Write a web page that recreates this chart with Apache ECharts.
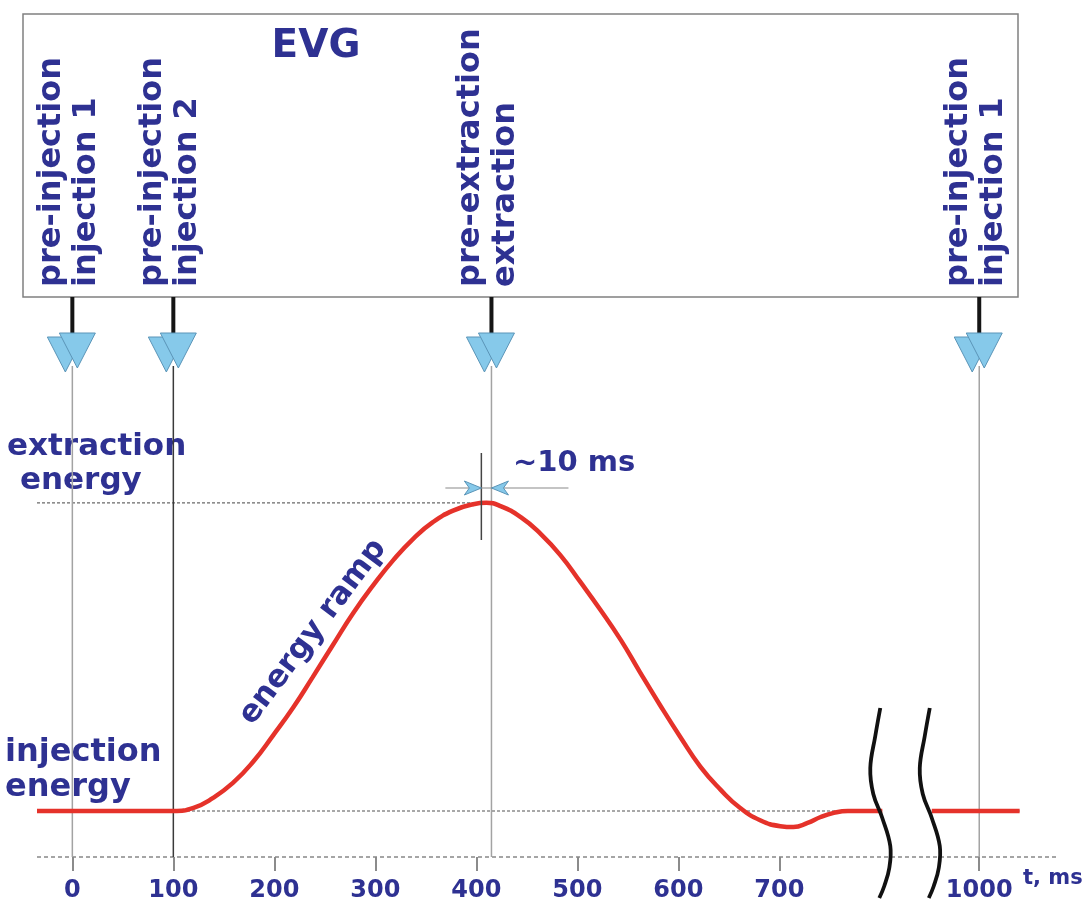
<!DOCTYPE html>
<html><head><meta charset="utf-8">
<script src="https://cdn.jsdelivr.net/npm/echarts@6/dist/echarts.min.js"></script>
<style>html,body{margin:0;padding:0;background:#fff}#c{width:1088px;height:910px}</style>
</head><body><div id="c"></div>
<script>
// ---- data ----
const tValues = [-35, 100, 120, 139, 159, 179, 199, 219, 238, 258, 278, 298, 318, 338, 357, 377, 397, 410, 424, 444, 463, 483, 503, 523, 543, 562, 582, 602, 622, 642, 661, 681, 701, 714, 728, 741, 754, 768, 802, 880, 953, 1040];
const energyValues = [1.0, 1.0, 1.07, 1.28, 1.61, 2.07, 2.65, 3.26, 3.91, 4.61, 5.30, 5.91, 6.46, 6.93, 7.28, 7.53, 7.67, 7.70, 7.63, 7.39, 7.04, 6.57, 5.98, 5.37, 4.72, 4.02, 3.30, 2.61, 1.96, 1.46, 1.07, 0.80, 0.67, 0.65, 0.74, 0.87, 0.96, 1.0, 1.0, null, 1.0, 1.0];
const tickValues = [0, 100, 200, 300, 400, 500, 600, 700, 1000];
const eventTimes = [0, 100, 415, 1000];
const eventLabels = ['pre-injection\ninjection 1', 'pre-injection\ninjection 2', 'pre-extraction\nextraction', 'pre-injection\ninjection 1'];
const preExtractionTime = 405;
const extractionTime = 415;
const injectionEnergy = 1.0;
const extractionEnergy = 7.7;
const breakStart = 802;
const breakEnd = 953;
const breakGap = 49;
const axisMin = -35;
const axisMax = 1077;

const NAVY = '#2e3192';
const FONT = '"DejaVu Sans", "Liberation Sans", Arial, sans-serif';
const TRI_FILL = '#86c9ea';
const TRI_STROKE = '#5b95b8';

const rampData = tValues.map((t, i) => [t, energyValues[i]]);
const injLine = [[axisMin, injectionEnergy], [breakStart, injectionEnergy], [(breakStart + breakEnd) / 2, null], [breakEnd, injectionEnergy], [tValues[tValues.length - 1], injectionEnergy]];
const extLine = [[axisMin, extractionEnergy], [preExtractionTime, extractionEnergy]];
const baseLine = [[axisMin, 0], [axisMax, 0]];

function renderEvent(params, api) {
  const x = api.coord([api.value(0), 0])[0];
  const base = api.coord([0, 0])[1];
  const i = params.dataIndex;
  const tri = (cx, top, w, h) => [[cx - w / 2, top], [cx + w / 2, top], [cx, top + h]];
  return {
    type: 'group', children: [
      { type: 'line', shape: { x1: x, y1: base, x2: x, y2: 366 }, style: { stroke: i === 1 ? '#3a3a3a' : '#a3a3a3', lineWidth: 1.5 } },
      { type: 'line', shape: { x1: x, y1: 297, x2: x, y2: 336 }, style: { stroke: '#151515', lineWidth: 4 } },
      { type: 'polygon', shape: { points: tri(x - 7, 337, 36, 35) }, style: { fill: TRI_FILL, stroke: TRI_STROKE, lineWidth: 1 } },
      { type: 'polygon', shape: { points: tri(x + 5, 333, 36, 35) }, style: { fill: TRI_FILL, stroke: TRI_STROKE, lineWidth: 1 } },
      { type: 'text', x: x - 3, y: 287, rotation: Math.PI / 2,
        style: { text: eventLabels[i], font: 'bold 32px ' + FONT, fill: NAVY, align: 'left', verticalAlign: 'middle', lineHeight: 35 } }
    ]
  };
}

function renderDim(params, api) {
  const xa = api.coord([api.value(0), 0])[0];
  const xb = api.coord([api.value(1), 0])[0];
  const y = 488;
  return {
    type: 'group', children: [
      { type: 'line', shape: { x1: xa, y1: 453, x2: xa, y2: 540 }, style: { stroke: '#444', lineWidth: 1.5 } },
      { type: 'line', shape: { x1: xa - 36, y1: y, x2: xb + 77, y2: y }, style: { stroke: '#8a8a8a', lineWidth: 1.2 } },
      { type: 'polygon', shape: { points: [[xa, y], [xa - 17, y - 7], [xa - 12, y], [xa - 17, y + 7]] }, style: { fill: TRI_FILL, stroke: TRI_STROKE, lineWidth: 1 } },
      { type: 'polygon', shape: { points: [[xb, y], [xb + 17, y - 7], [xb + 12, y], [xb + 17, y + 7]] }, style: { fill: TRI_FILL, stroke: TRI_STROKE, lineWidth: 1 } }
    ]
  };
}

function renderWave(params, api) {
  const cx = api.coord([api.value(0), 0])[0] - 2;
  const top = 708;
  const offs = [[0, 0], [-5, 28], [-10, 60], [-7, 86], [2, 110], [10, 138], [9, 160], [4, 178], [-1, 190]];
  return {
    type: 'polyline',
    shape: { points: offs.map(p => [cx + p[0], top + p[1]]), smooth: 0.4 },
    style: { stroke: '#111', lineWidth: 3.8, fill: null },
    z2: 10
  };
}

const chart = echarts.init(document.getElementById('c'), null, { renderer: 'canvas' });
chart.setOption({
  animation: false,
  backgroundColor: '#fff',
  grid: { left: 37, right: 31, top: 13, bottom: 53, containLabel: false },
  xAxis: {
    type: 'value', min: axisMin, max: axisMax,
    breaks: [{ start: breakStart, end: breakEnd, gap: breakGap }],
    breakArea: { show: false },
    splitLine: { show: false },
    axisLine: { show: false },
    axisTick: { show: true, customValues: tickValues, length: 14, lineStyle: { color: '#666', width: 1.5 } },
    axisLabel: { show: true, customValues: tickValues, formatter: v => String(v), margin: 22, color: NAVY, fontFamily: FONT, fontWeight: 'bold', fontSize: 24 }
  },
  yAxis: { type: 'value', min: 0, max: 18.35, show: false },
  graphic: [
    { type: 'rect', shape: { x: 23, y: 14, width: 995, height: 283 }, style: { fill: 'none', stroke: '#808080', lineWidth: 1.5 }, z: 0 },
    { type: 'text', x: 316, y: 47, style: { text: 'EVG', font: 'bold 39px ' + FONT, fill: NAVY, align: 'center', verticalAlign: 'middle' } },
    { type: 'text', x: 7, y: 447, style: { text: 'extraction', font: 'bold 31px ' + FONT, fill: NAVY, align: 'left', verticalAlign: 'middle' } },
    { type: 'text', x: 20, y: 481, style: { text: 'energy', font: 'bold 31px ' + FONT, fill: NAVY, align: 'left', verticalAlign: 'middle' } },
    { type: 'text', x: 5, y: 753, style: { text: 'injection', font: 'bold 32px ' + FONT, fill: NAVY, align: 'left', verticalAlign: 'middle' } },
    { type: 'text', x: 5, y: 788, style: { text: 'energy', font: 'bold 32px ' + FONT, fill: NAVY, align: 'left', verticalAlign: 'middle' } },
    { type: 'text', x: 513, y: 463, style: { text: '~10 ms', font: 'bold 29px ' + FONT, fill: NAVY, align: 'left', verticalAlign: 'middle' } },
    { type: 'text', x: 313, y: 632, rotation: 53 * Math.PI / 180, style: { text: 'energy ramp', font: 'bold 31px ' + FONT, fill: NAVY, align: 'center', verticalAlign: 'middle' } },
    { type: 'text', x: 1023, y: 879, style: { text: 't, ms', font: 'bold 21px ' + FONT, fill: NAVY, align: 'left', verticalAlign: 'middle' } }
  ],
  series: [
    { type: 'line', name: 'time axis', data: baseLine, showSymbol: false, symbol: 'none', z: 1, silent: true, clip: false,
      lineStyle: { color: '#888', width: 1.5, type: [4, 3] } },
    { type: 'line', name: 'injection level', data: injLine, showSymbol: false, symbol: 'none', z: 1, silent: true,
      lineStyle: { color: '#8c8c8c', width: 1.3, type: [3, 2] } },
    { type: 'line', name: 'extraction level', data: extLine, showSymbol: false, symbol: 'none', z: 1, silent: true,
      lineStyle: { color: '#6a6a6a', width: 1.3, type: [3, 2] } },
    { type: 'custom', name: 'events', data: eventTimes.map((t, i) => [t, i]), renderItem: renderEvent, z: 2, clip: false, silent: true },
    { type: 'line', name: 'energy', data: rampData, smooth: 0.5, connectNulls: false, showSymbol: false, symbol: 'none', z: 4,
      lineStyle: { color: '#e5322a', width: 4.5 } },
    { type: 'custom', name: 'dim', data: [[preExtractionTime, extractionTime]], renderItem: renderDim, z: 5, clip: false, silent: true },
    { type: 'custom', name: 'break', data: [[breakStart], [breakEnd]], renderItem: renderWave, z: 6, clip: false, silent: true }
  ]
});
</script>
</body></html>
